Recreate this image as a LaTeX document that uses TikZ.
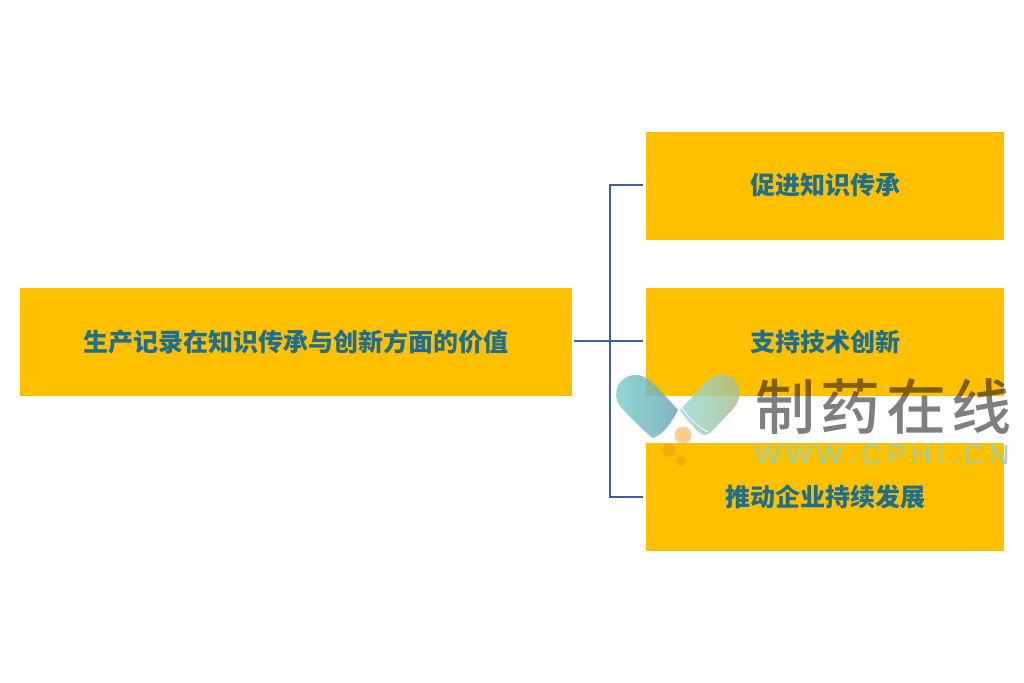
\documentclass[tikz,border=0pt]{standalone}
\usepackage{fontspec}
\newfontfamily\cjk{Noto Sans CJK SC}
\newfontfamily\cjkmid{Noto Sans CJK SC Medium}
\newfontfamily\latinwm{Liberation Sans}
\definecolor{boxgold}{HTML}{FFC000}
\definecolor{linkblue}{HTML}{3F5F9E}
\definecolor{textblue}{HTML}{1F6E8C}
\definecolor{wmteal}{HTML}{7FD3CF}
\definecolor{wmteald}{HTML}{6FA6B8}
\definecolor{wmball}{HTML}{F39C1F}
\newcommand{\boxlabel}[1]{\raisebox{3.5pt}{#1}}
\tikzset{
  goldbox/.style={fill=boxgold,draw=none,inner sep=0pt,minimum height=108pt,text=textblue,font=\cjk\bfseries\fontsize{25}{28}\selectfont},
  link/.style={draw=linkblue,line width=2pt},
  pill/.style={draw=none,fill opacity=0.85},
  wmball/.style={circle,fill=wmball,fill opacity=0.6,inner sep=0pt},
  wmtitle/.style={text=black,text opacity=0.5,inner sep=0pt,font=\cjkmid\fontsize{60}{64}\selectfont},
  wmsub/.style={text=wmteal,text opacity=0.85,inner sep=0pt,font=\latinwm\fontsize{28}{30}\selectfont}
}
\begin{document}
\begin{tikzpicture}[x=1pt,y=-1pt]
\useasboundingbox (0,0) rectangle (1024,682);
\node[goldbox,minimum width=552pt] (root) at (295.5,342) {\boxlabel{生产记录在知识传承与创新方面的价值}};
\node[goldbox,minimum width=358pt] (a) at (825,186) {\boxlabel{促进知识传承}};
\node[goldbox,minimum width=358pt] (b) at (825,342) {\boxlabel{支持技术创新}};
\node[goldbox,minimum width=358pt] (c) at (825,497) {\boxlabel{推动企业持续发展}};
\coordinate (trunk) at (610,341);
\coordinate (rootout) at (574,341);
\coordinate (bin) at (643,341);
\coordinate (ain) at (643,185);
\coordinate (cin) at (643,497);
\draw[link] (rootout) -- (bin);
\draw[link] (ain) -- (trunk |- ain) -- (trunk |- cin) -- (cin);
% watermark
\path[pill,left color=wmteal,right color=wmteald]
  (653,438) .. controls (640,428) and (628,415) .. (620,406)
  .. controls (611,394) and (618,375) .. (636,375)
  .. controls (645,375) and (651,382) .. (656,386)
  -- (678,410) .. controls (672,422) and (664,434) .. (653,438) -- cycle;
\path[pill,left color=wmteal!80!white,right color=wmteal!60!wmball]
  (680,410) -- (708,380) .. controls (718,372) and (733,373) .. (738,385)
  .. controls (742,395) and (738,403) .. (733,409)
  -- (712,431) .. controls (708,436) and (703,436) .. (699,432)
  .. controls (692,426) and (685,418) .. (680,410) -- cycle;
\draw[white,line width=0.8pt] (682,408) .. controls (690,420) and (700,428) .. (708,432);
\node[wmball,minimum size=17pt,fill opacity=0.5] (ball1) at (683,435) {};
\node[wmball,minimum size=13pt] (ball2) at (669,450) {};
\node[wmball,minimum size=10pt] (ball3) at (681,461) {};
\node[wmtitle,anchor=west] (wmt) at (755,407) {制\hspace{5.5pt}药\hspace{5.5pt}在\hspace{5.5pt}线};
\node[wmsub,anchor=west] (wms) at (755,455) {W\hspace{4pt}W\hspace{4pt}W\hspace{5.5pt}.\hspace{5.5pt}C\hspace{5.5pt}P\hspace{5.5pt}H\hspace{5.5pt}I\hspace{5.5pt}.\hspace{5.5pt}C\hspace{5.5pt}N};
\end{tikzpicture}
\end{document}
